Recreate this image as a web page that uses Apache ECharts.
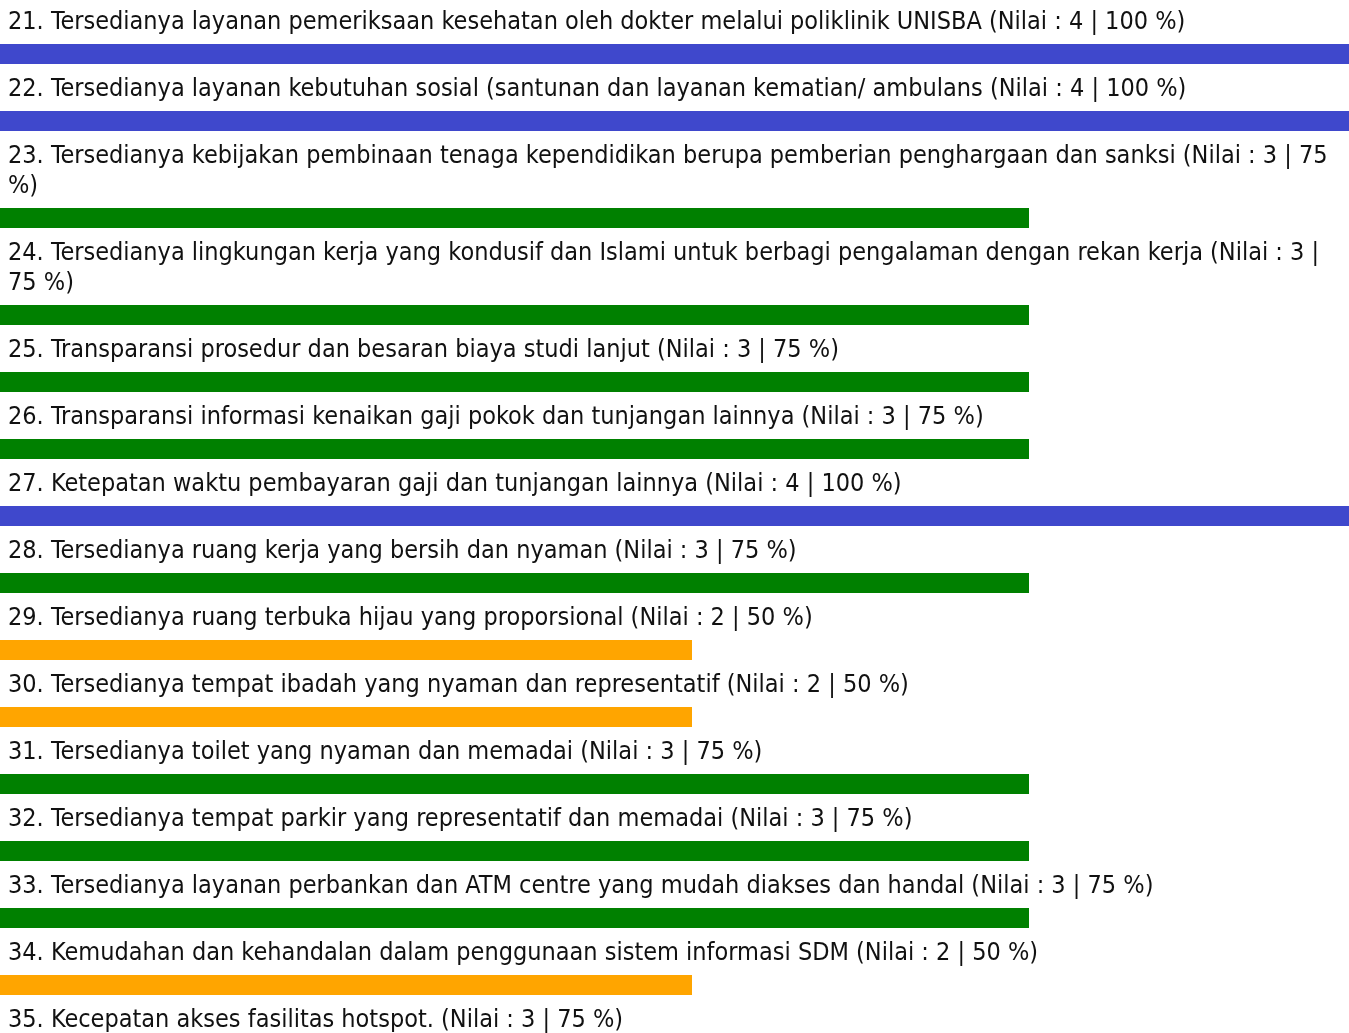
<!DOCTYPE html>
<html>
<head>
<meta charset="utf-8">
<title>Nilai Layanan</title>
<script src="https://cdn.jsdelivr.net/npm/echarts@6/dist/echarts.min.js"></script>
<style>
  html, body { margin: 0; padding: 0; background: #ffffff; }
  #chart { width: 1349px; height: 1033px; }
</style>
</head>
<body>
<div id="chart"></div>
<script>
// Item numbers, statements, scores (1-4) and percentages
const itemNumbers = [21, 22, 23, 24, 25, 26, 27, 28, 29, 30, 31, 32, 33, 34, 35];
const statements = [
  'Tersedianya layanan pemeriksaan kesehatan oleh dokter melalui poliklinik UNISBA',
  'Tersedianya layanan kebutuhan sosial (santunan dan layanan kematian/ ambulans',
  'Tersedianya kebijakan pembinaan tenaga kependidikan berupa pemberian penghargaan dan sanksi',
  'Tersedianya lingkungan kerja yang kondusif dan Islami untuk berbagi pengalaman dengan rekan kerja',
  'Transparansi prosedur dan besaran biaya studi lanjut',
  'Transparansi informasi kenaikan gaji pokok dan tunjangan lainnya',
  'Ketepatan waktu pembayaran gaji dan tunjangan lainnya',
  'Tersedianya ruang kerja yang bersih dan nyaman',
  'Tersedianya ruang terbuka hijau yang proporsional',
  'Tersedianya tempat ibadah yang nyaman dan representatif',
  'Tersedianya toilet yang nyaman dan memadai',
  'Tersedianya tempat parkir yang representatif dan memadai',
  'Tersedianya layanan perbankan dan ATM centre yang mudah diakses dan handal',
  'Kemudahan dan kehandalan dalam penggunaan sistem informasi SDM',
  'Kecepatan akses fasilitas hotspot.'
];
const scores = [4, 4, 3, 3, 3, 3, 4, 3, 2, 2, 3, 3, 3, 2, 3];
const percents = [100, 100, 75, 75, 75, 75, 100, 75, 50, 50, 75, 75, 75, 50, 75];

// Bar colour per score
const scoreColors = { 4: '#3f48cc', 3: '#008000', 2: '#ffa500', 1: '#e02020' };

// Text and layout settings
const FONT_SIZE = 25;
const LINE_HEIGHT = 30;
const FONT_FAMILY = '"DejaVu Sans Condensed", "DejaVu Sans", sans-serif';
const TEXT_LEFT = 8;
const TEXT_MAX_WIDTH = 1341;
const TEXT_NUDGE = 1;
const GAP_TEXT_BAR = 8;
const BAR_HEIGHT = 20;
const GAP_AFTER_BAR = 9;
const START_Y = 6;
// A bar is padded by this many pixels before its percentage length starts
const BAR_LEFT_PAD = 18;
// Pixels for the full 100 % length; the 100 % bars run past the right edge
const FULL_LENGTH = 1348;
const VIEW_WIDTH = 1349;
const AXIS_MAX = 100 * (VIEW_WIDTH - BAR_LEFT_PAD) / FULL_LENGTH;

// Word-wrap a label to the available width
const measureCtx = document.createElement('canvas').getContext('2d');
measureCtx.font = FONT_SIZE + 'px ' + FONT_FAMILY;
function wrapLabel(text) {
  const words = text.split(' ');
  const lines = [];
  let line = '';
  words.forEach(function (w) {
    const trial = line ? line + ' ' + w : w;
    if (line && measureCtx.measureText(trial).width > TEXT_MAX_WIDTH) {
      lines.push(line);
      line = w;
    } else {
      line = trial;
    }
  });
  if (line) lines.push(line);
  return lines;
}

const chart = echarts.init(document.getElementById('chart'), null, { renderer: 'canvas' });

const titles = [];
const grids = [];
const xAxes = [];
const yAxes = [];
const series = [];

let y = START_Y;
itemNumbers.forEach(function (num, i) {
  const label = num + '. ' + statements[i] + ' (Nilai : ' + scores[i] + ' | ' + percents[i] + ' %)';
  const lines = wrapLabel(label);
  titles.push({
    text: lines.join('\n'),
    left: TEXT_LEFT,
    top: y + TEXT_NUDGE,
    padding: 0,
    textStyle: {
      fontFamily: FONT_FAMILY,
      fontSize: FONT_SIZE,
      fontWeight: 'normal',
      lineHeight: LINE_HEIGHT,
      color: '#111111'
    }
  });
  const barTop = y + lines.length * LINE_HEIGHT + GAP_TEXT_BAR;
  grids.push({ left: BAR_LEFT_PAD, right: 0, top: barTop, height: BAR_HEIGHT, containLabel: false });
  xAxes.push({ type: 'value', gridIndex: i, min: 0, max: AXIS_MAX, show: false });
  yAxes.push({ type: 'category', gridIndex: i, data: [String(num)], show: false });
  const color = scoreColors[scores[i]];
  series.push({
    type: 'custom',
    xAxisIndex: i,
    yAxisIndex: i,
    clip: false,
    silent: true,
    data: [[percents[i], 0]],
    renderItem: function (params, api) {
      const end = api.coord([api.value(0), 0]);
      const cs = params.coordSys;
      const x0 = cs.x - BAR_LEFT_PAD;
      return {
        type: 'rect',
        shape: { x: x0, y: cs.y, width: end[0] - x0, height: cs.height },
        style: { fill: color }
      };
    }
  });
  y = barTop + BAR_HEIGHT + GAP_AFTER_BAR;
});

chart.setOption({
  backgroundColor: '#ffffff',
  animation: false,
  title: titles,
  grid: grids,
  xAxis: xAxes,
  yAxis: yAxes,
  series: series
});
</script>
</body>
</html>
